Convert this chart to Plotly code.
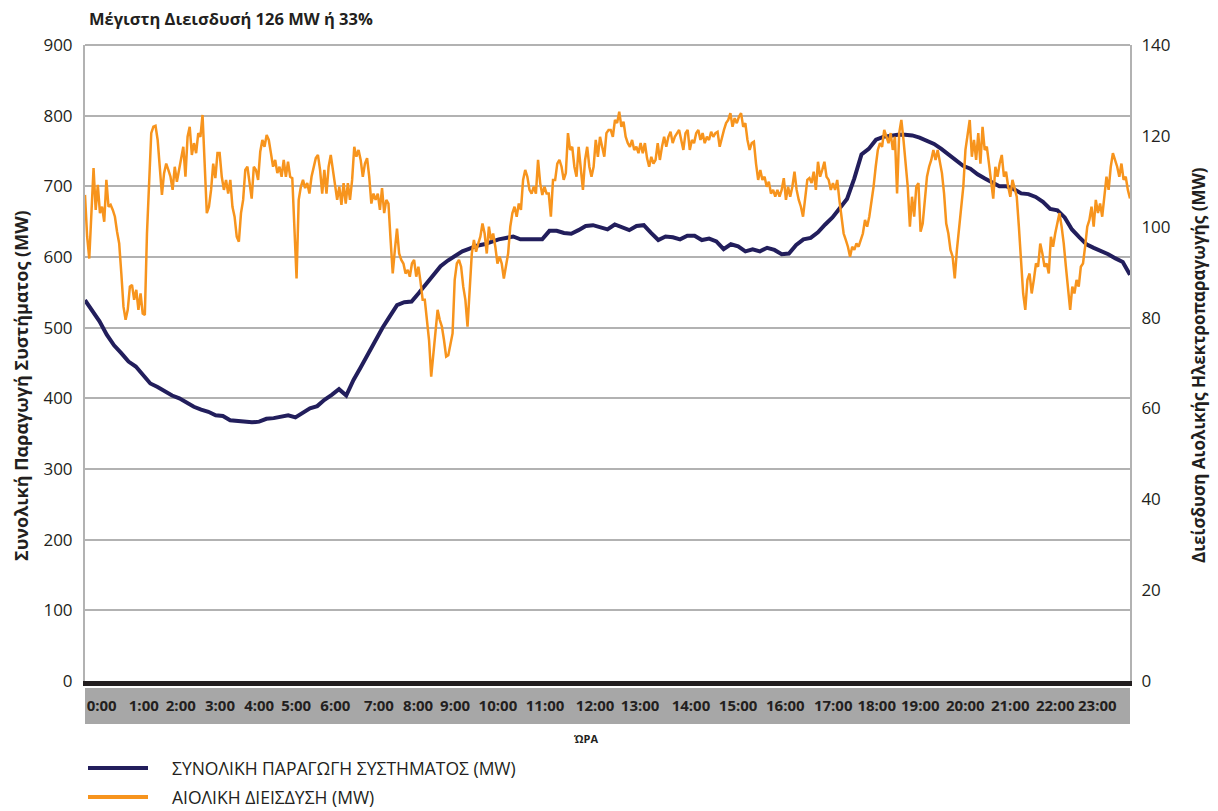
import numpy as np
import plotly.graph_objects as go

# ---------------- data ----------------
HOUR_LABELS = ["0:00", "1:00", "2:00", "3:00", "4:00", "5:00", "6:00", "7:00", "8:00", "9:00",
               "10:00", "11:00", "12:00", "13:00", "14:00", "15:00", "16:00", "17:00", "18:00",
               "19:00", "20:00", "21:00", "22:00", "23:00"]
# where each hour label sits along the band (minutes of the day, as printed in the original band)
HOUR_LABEL_POS = [23, 81, 132, 186, 240, 291, 345, 405, 459, 510, 569, 634, 703, 765,
                  835, 900, 965, 1031, 1091, 1151, 1213, 1275, 1337, 1395]

# total system generation (MW), 10-minute samples 0:00 .. 24:00
TOTAL_MW = [539, 524, 509, 490, 475, 464, 452, 445, 432, 421, 416, 410, 404, 400, 394, 388,
            384, 381, 376, 375, 369, 368, 367, 366, 367, 371, 372, 374, 376, 373, 379, 386,
            389, 398, 405, 413, 404, 426, 444, 463, 481, 500, 516, 532, 536, 537, 549, 562,
            574, 587, 595, 602, 608, 612, 616, 618, 622, 625, 627, 629, 625, 625, 626, 625,
            637, 637, 634, 633, 638, 644, 645, 642, 639, 646, 642, 638, 644, 645, 634, 624,
            629, 628, 625, 630, 630, 624, 626, 622, 611, 618, 615, 608, 611, 608, 613, 610,
            604, 605, 617, 625, 627, 635, 646, 656, 669, 682, 711, 745, 753, 766, 770, 772,
            773, 773, 772, 769, 765, 760, 753, 745, 737, 729, 725, 717, 711, 705, 700, 700,
            696, 690, 689, 685, 678, 668, 666, 656, 639, 628, 618, 613, 609, 604, 598, 593,
            575]

# wind penetration (MW), ~3-minute samples 0:00 .. 24:00
WIND_MW = [
    107.0, 97.8, 93.0, 102.2, 112.9, 103.7, 109.2, 103.0, 104.4, 101.1, 110.3, 104.4, 104.8,
    103.7, 102.2, 98.9, 96.3, 89.7, 82.4, 79.5, 81.7, 86.8, 87.2, 83.9, 86.1, 81.7, 85.3, 80.9,
    80.6, 98.5, 110.3, 120.6, 122.0, 122.2, 119.1, 113.2, 107.0, 111.8, 113.9, 112.5, 111.0,
    108.1, 113.2, 109.9, 112.5, 114.7, 117.6, 111.0, 119.8, 122.0, 115.8, 118.4, 116.2, 120.6,
    119.8, 124.6, 113.2, 103.0, 104.4, 108.1, 113.9, 110.7, 116.2, 116.2, 111.0, 108.1, 110.3,
    107.3, 110.3, 104.4, 102.2, 97.8, 96.7, 103.0, 105.9, 112.5, 113.2, 109.6, 106.2, 113.2,
    112.5, 110.3, 116.5, 119.1, 117.6, 120.2, 119.1, 116.2, 113.2, 114.7, 111.8, 113.2, 111.0,
    114.7, 111.0, 114.3, 111.0, 110.7, 98.5, 88.6, 105.9, 108.8, 110.3, 108.5, 109.6, 107.3,
    111.0, 113.2, 115.1, 115.8, 112.5, 107.3, 112.5, 107.3, 113.2, 115.8, 112.5, 109.6, 105.9,
    108.8, 104.8, 109.6, 105.1, 109.6, 105.9,
    110.3, 117.6, 115.4, 116.9, 114.7, 111.0, 113.9, 115.1, 111.0, 105.1, 107.3, 105.9, 107.3,
    103.7, 108.5, 103.0, 105.9, 105.1, 97.1, 89.7, 94.9, 99.6, 94.1, 92.7, 91.9, 89.7, 90.5,
    89.0, 91.9, 92.7, 89.0, 91.2, 87.9, 83.9, 83.9, 78.7, 75.0, 67.0, 72.1, 78.0, 81.7, 79.5,
    78.0, 75.0, 71.4, 71.7, 74.3, 76.5, 88.3, 91.9, 92.7, 91.2, 86.8, 83.9, 78.0, 86.8, 94.1,
    97.1, 94.5, 96.3, 97.8, 100.7, 98.5, 94.1, 100.0, 97.1, 98.5, 95.6, 91.9, 93.4, 91.9, 88.6,
    91.2, 94.1, 100.0, 103.0, 104.4, 102.2, 105.1, 103.7, 110.3, 112.5, 111.0, 108.1, 107.3,
    108.8, 107.3, 114.7, 109.6, 107.0, 108.8, 107.3, 107.3, 102.2, 110.3, 110.3, 113.9, 114.7,
    113.2, 110.3, 111.8, 120.6, 116.9, 117.6, 113.2, 111.0, 117.6, 113.2, 108.1, 114.7, 117.6,
    113.2, 111.0, 113.2, 119.1, 115.4, 119.8, 117.6, 115.4, 120.6, 121.3,
    121.3, 119.8, 123.5, 122.8, 125.3, 122.0, 123.1, 119.8, 118.4, 117.6, 119.1, 116.9, 117.6,
    116.2, 118.4, 116.2, 118.4, 115.1, 113.2, 115.4, 113.9, 114.7, 118.4, 114.7, 117.6, 119.8,
    117.6, 119.8, 120.9, 118.4, 119.8, 120.6, 121.3, 119.1, 116.9, 120.6, 121.3, 116.9, 119.1,
    118.4, 120.6, 121.3, 119.1, 120.6, 118.4, 119.8, 119.1, 120.9, 119.8, 120.6, 120.9, 117.6,
    119.8, 121.3, 122.8, 123.5, 125.0, 122.0, 123.9, 122.8, 124.2, 125.0, 122.0, 122.8, 119.1,
    116.9, 118.4, 118.7, 113.9, 110.3, 112.5, 110.3, 111.0, 108.8, 109.9, 107.3, 108.1, 106.6,
    108.1, 106.6, 108.1, 110.7, 105.9, 108.8, 106.6, 108.8, 112.1, 108.1, 105.9, 104.4, 102.2,
    105.9, 110.3, 110.7, 109.6, 112.1, 108.1, 114.3, 111.0, 112.5, 114.3, 111.0, 110.3, 108.1,
    109.6, 108.1, 110.3, 105.9, 101.5, 98.5, 97.1, 95.6, 93.4, 95.6, 94.9, 96.3, 95.6, 97.1,
    98.5, 101.5,
    100.0, 102.2, 105.1, 108.8, 113.2, 116.9, 118.4, 117.6, 121.3, 119.8, 118.4, 120.6, 116.9,
    119.8, 107.3, 120.6, 123.5, 119.1, 113.2, 108.8, 100.0, 106.6, 102.2, 108.8, 109.6, 98.9,
    100.7, 105.9, 111.0, 113.2, 114.7, 116.9, 114.7, 116.9, 114.7, 111.8, 107.3, 100.7, 98.5,
    94.9, 93.4, 88.6, 94.9, 100.0, 104.4, 108.8, 116.9, 120.6, 123.5, 115.4, 119.1, 114.7,
    120.6, 113.9, 122.0, 116.9, 117.6, 113.9, 110.3, 106.2, 113.2, 111.0, 113.9, 115.8, 111.0,
    112.1, 108.8, 106.6, 110.3, 108.1, 106.6, 100.0, 91.2, 85.3, 81.7, 88.3, 89.7, 85.3, 88.3,
    91.9, 91.2, 96.3, 94.1, 91.2, 91.9, 89.7, 97.8, 95.6, 98.5, 100.7, 103.0, 100.0, 96.3,
    91.2, 86.1, 81.7, 86.8, 85.3, 88.3, 86.8, 91.2, 91.9, 95.6, 100.0, 101.5, 104.4, 100.0,
    105.9, 103.0, 105.1, 102.2, 106.6, 111.0, 108.1, 113.2, 116.2, 114.7, 113.2, 111.0, 113.9,
    110.3, 111.0, 108.1, 106.2,
]

TITLE = "Μέγιστη Διεισδυσή 126 MW ή 33%"
Y1_TITLE = "Συνολική Παραγωγή Συστήματος (MW)"
Y2_TITLE = "Διείσδυση Αιολικής Ηλεκτροπαραγωγής (MW)"
X_TITLE = "ΏΡΑ"
NAME_TOTAL = "ΣΥΝΟΛΙΚΗ ΠΑΡΑΓΩΓΗ ΣΥΣΤΗΜΑΤΟΣ (MW)"
NAME_WIND = "ΑΙΟΛΙΚΗ ΔΙΕΙΣΔΥΣΗ (MW)"

# ---------------- figure ----------------
NAVY = "#221e5c"
ORANGE = "#f7941d"
TXT = "#231f20"
GRID = "#b2b2b2"
FONT = "Open Sans"

t_total = np.linspace(0, 1440, len(TOTAL_MW))
t_wind = np.linspace(0, 1440, len(WIND_MW))

fig = go.Figure()
fig.add_trace(go.Scatter(x=t_wind, y=WIND_MW, yaxis="y2", mode="lines", name=NAME_WIND,
                         line=dict(color=ORANGE, width=2.5), showlegend=False))
fig.add_trace(go.Scatter(x=t_total, y=TOTAL_MW, mode="lines", name=NAME_TOTAL,
                         line=dict(color=NAVY, width=4), showlegend=False))

# the page body has an 8px margin, so the figure is sized to fit the window
OFF = 8
W, H = 1218 - OFF, 811 - OFF
PLOT_L, PLOT_R, PLOT_T, PLOT_B = 85, 1130, 45, 681   # page pixel edges of the plot area
L, T = PLOT_L - OFF, PLOT_T - OFF
R = W - (PLOT_R - OFF)
B = H - (PLOT_B - OFF)
ph = PLOT_B - PLOT_T
pw = PLOT_R - PLOT_L


def py(p):  # page pixel y -> paper y
    return (PLOT_B - p) / ph


def px_(p):  # page pixel x -> paper x
    return (p - PLOT_L) / pw


fig.update_layout(
    width=W, height=H,
    margin=dict(l=L, r=R, t=T, b=B, autoexpand=False),
    paper_bgcolor="white", plot_bgcolor="white",
    font=dict(family=FONT, color=TXT, size=16),
    xaxis=dict(range=[0, 1440], showgrid=False, zeroline=False,
               showline=True, linecolor="#231f20", linewidth=5,
               tickmode="array", tickvals=HOUR_LABEL_POS, ticktext=HOUR_LABELS,
               ticks="", tickfont=dict(family=FONT, size=15, color=TXT, weight="bold"),
               ticklabelstandoff=7),
    yaxis=dict(range=[0, 900], dtick=100, showgrid=True, gridcolor=GRID, gridwidth=2,
               zeroline=False, showline=True, linecolor=GRID, linewidth=2,
               ticks="", ticklabelstandoff=7, tickfont=dict(size=17, color=TXT)),
    yaxis2=dict(range=[0, 140], dtick=20, overlaying="y", side="right", showgrid=False,
                zeroline=False, showline=True, linecolor=GRID, linewidth=2,
                ticks="", ticklabelstandoff=6, tickfont=dict(size=17, color=TXT)),
    showlegend=False,
)

shapes = [
    # grey band behind the hour labels
    dict(type="rect", xref="paper", yref="paper", x0=0, x1=1, y0=py(724), y1=py(688),
         fillcolor="#a7a7a7", line=dict(width=0), layer="below"),
    # top border
    dict(type="line", xref="paper", yref="paper", x0=0, x1=1, y0=1, y1=1,
         line=dict(color=GRID, width=2)),
    # legend samples
    dict(type="line", xref="paper", yref="paper", x0=px_(88), x1=px_(148), y0=py(768), y1=py(768),
         line=dict(color=NAVY, width=4)),
    dict(type="line", xref="paper", yref="paper", x0=px_(88), x1=px_(148), y0=py(797), y1=py(797),
         line=dict(color=ORANGE, width=4)),
]
fig.update_layout(shapes=shapes)

ann = [
    dict(text=TITLE, x=px_(87), y=py(19), xanchor="left", yanchor="middle",
         font=dict(size=16.5, weight="bold")),
    dict(text=Y1_TITLE, x=px_(21), y=py(386), textangle=-90, xanchor="center", yanchor="middle",
         font=dict(size=18, weight="bold")),
    dict(text=Y2_TITLE, x=px_(1198), y=py(365), textangle=-90, xanchor="center", yanchor="middle",
         font=dict(size=17, weight="bold")),
    dict(text=X_TITLE, x=px_(586), y=py(738), xanchor="center", yanchor="middle",
         font=dict(size=11, weight="bold")),
    dict(text=NAME_TOTAL, x=px_(170), y=py(768), xanchor="left", yanchor="middle",
         font=dict(size=17.5)),
    dict(text=NAME_WIND, x=px_(170), y=py(797), xanchor="left", yanchor="middle",
         font=dict(size=17.5)),
]
for a in ann:
    a.update(xref="paper", yref="paper", showarrow=False)
fig.update_layout(annotations=ann)

fig.write_html("out.html")
